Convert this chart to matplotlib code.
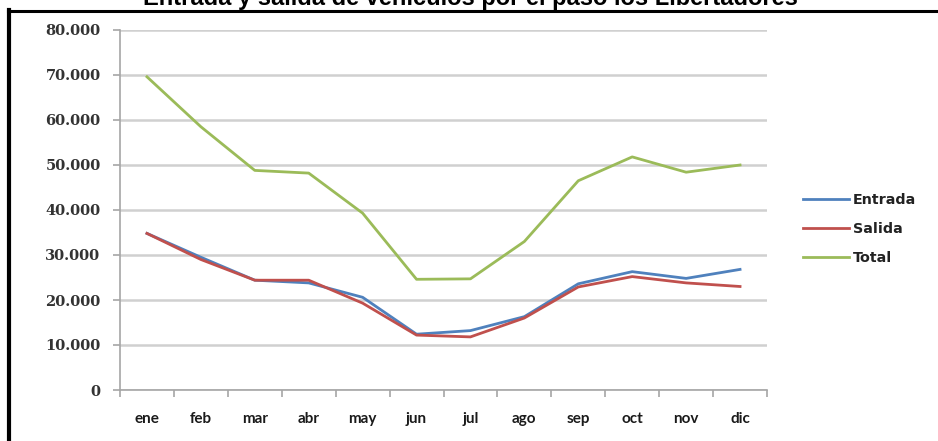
import matplotlib
matplotlib.use("Agg")
import matplotlib.pyplot as plt
from matplotlib.lines import Line2D
from matplotlib.ticker import FuncFormatter, FixedLocator

meses = ["ene", "feb", "mar", "abr", "may", "jun", "jul", "ago", "sep", "oct", "nov", "dic"]
entrada = [34800, 29500, 24400, 23800, 20600, 12400, 13200, 16300, 23600, 26300, 24800, 26800]
salida = [34800, 29000, 24400, 24400, 19300, 12200, 11800, 16000, 22900, 25200, 23800, 23000]
total = [69600, 58500, 48800, 48200, 39300, 24600, 24700, 33000, 46500, 51800, 48400, 50000]
titulo = "Entrada y salida de vehículos por el paso los Libertadores"

W, H = 938, 441
fig = plt.figure(figsize=(W / 100, H / 100), dpi=100)
fig.patch.set_facecolor("white")

# plot area in pixel terms: x 120..767, y 30..390
ax = fig.add_axes([120 / W, 1 - 390 / H, 647 / W, 360 / H])

x = list(range(len(meses)))
ax.plot(x, entrada, color="#4F81BD", lw=2.0, label="Entrada", solid_joinstyle="round")
ax.plot(x, salida, color="#C0504D", lw=2.0, label="Salida", solid_joinstyle="round")
ax.plot(x, total, color="#9BBB59", lw=2.0, label="Total", solid_joinstyle="round")

ax.set_xlim(-0.5, 11.5)
ax.set_ylim(0, 80000)
ax.set_yticks(range(0, 80001, 10000))
ax.yaxis.set_major_formatter(FuncFormatter(lambda v, p: f"{int(v):,}".replace(",", ".")))
ax.grid(axis="y", color="#d0d0d0", lw=1.8)
ax.set_axisbelow(True)

for s in ("top", "right"):
    ax.spines[s].set_visible(False)
for s in ("left", "bottom"):
    ax.spines[s].set_color("#a6a6a6")
    ax.spines[s].set_linewidth(1.2)

# category labels at centres, tick marks on the boundaries
ax.set_xticks(x)
ax.set_xticklabels(meses, family="Lato", fontweight="bold", fontsize=11, color="#1a1a1a")
ax.tick_params(axis="x", which="major", length=0, pad=16)
ax.xaxis.set_minor_locator(FixedLocator([i - 0.5 for i in range(13)]))
ax.tick_params(axis="x", which="minor", length=5, color="#a6a6a6", width=1.2)
ax.tick_params(axis="y", length=5, color="#a6a6a6", width=1.2, pad=9)
for lab in ax.get_yticklabels():
    lab.set_family("DejaVu Serif")
    lab.set_fontweight("bold")
    lab.set_fontsize(10.5)
    lab.set_color("#333333")

leg = fig.legend(loc="center left", bbox_to_anchor=(790 / W, 1 - 229 / H), frameon=False,
                 handlelength=3.2, handletextpad=0.3, labelspacing=1.05,
                 prop={"family": "DejaVu Sans", "weight": "bold", "size": 10.3})
for t in leg.get_texts():
    t.set_color("#222222")

fig.text(470 / W, 1 - 5 / H, titulo, ha="center", va="baseline",
         family="Liberation Sans", fontweight="bold", fontsize=17, color="black")

# outer frame (top and left edges)
fig.add_artist(Line2D([8 / W, 1], [1 - 10.5 / H, 1 - 10.5 / H], transform=fig.transFigure,
                      color="black", lw=2.2))
fig.add_artist(Line2D([9 / W, 9 / W], [0, 1 - 9.5 / H], transform=fig.transFigure,
                      color="black", lw=3.0))

fig.savefig("out.png", dpi=100)
